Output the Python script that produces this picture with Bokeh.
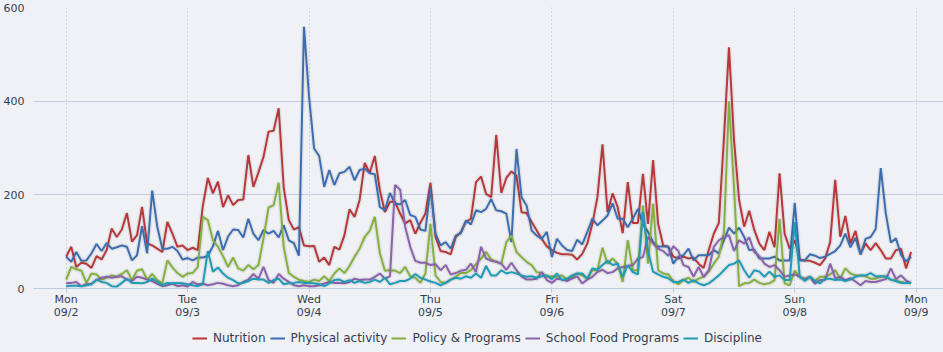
import numpy as np
from bokeh.plotting import figure
from bokeh.layouts import column
from bokeh.models import FixedTicker, Legend, LegendItem, Range1d
from bokeh.embed import file_html
from bokeh.resources import INLINE

# Days shown on the x axis (hourly data starting Mon 09/2 00:00)
day_names = ["Mon", "Tue", "Wed", "Thu", "Fri", "Sat", "Sun", "Mon"]
day_dates = ["09/2", "09/3", "09/4", "09/5", "09/6", "09/7", "09/8", "09/9"]
y_ticks = [0, 200, 400, 600]

nutrition = [
    68, 89, 46, 55, 53, 44, 69, 62, 82, 128, 110, 126, 161, 100, 114, 174, 96, 92, 85, 78, 142, 117, 89, 92,
    82, 87, 82, 176, 236, 203, 228, 174, 199, 178, 189, 190, 285, 217, 248, 281, 335, 337, 385, 215, 146, 126, 131, 92,
    90, 91, 57, 66, 50, 89, 83, 114, 169, 153, 189, 268, 247, 283, 210, 163, 185, 185, 160, 139, 146, 117, 140, 160,
    226, 110, 80, 78, 73, 110, 120, 142, 149, 227, 239, 202, 195, 328, 204, 236, 250, 241, 163, 161, 142, 124, 106, 90,
    82, 76, 73, 73, 72, 62, 74, 96, 138, 195, 308, 163, 203, 174, 118, 227, 140, 140, 245, 138, 274, 138, 92, 89,
    68, 64, 68, 64, 66, 53, 44, 82, 117, 140, 320, 515, 317, 189, 132, 166, 125, 96, 82, 121, 88, 246, 117, 85,
    103, 62, 60, 59, 55, 50, 64, 99, 232, 110, 155, 96, 123, 74, 96, 82, 97, 82, 64, 64, 82, 85, 43, 78,
]
physical_activity = [
    68, 57, 78, 59, 60, 75, 95, 80, 97, 85, 88, 92, 89, 60, 71, 133, 75, 209, 132, 85, 85, 89, 80, 62,
    65, 60, 66, 66, 70, 90, 123, 82, 111, 126, 125, 109, 149, 117, 103, 125, 117, 123, 109, 135, 103, 97, 70, 559,
    410, 299, 283, 217, 253, 221, 246, 249, 260, 231, 253, 256, 246, 244, 174, 167, 204, 181, 180, 189, 157, 153, 126, 123,
    215, 117, 92, 99, 85, 113, 118, 145, 137, 167, 163, 170, 191, 167, 165, 160, 99, 298, 195, 177, 124, 113, 106, 121,
    67, 106, 92, 82, 80, 104, 94, 121, 149, 135, 145, 156, 182, 149, 149, 131, 149, 170, 137, 121, 99, 89, 90, 89,
    53, 68, 71, 85, 60, 71, 71, 71, 82, 75, 103, 130, 117, 130, 110, 82, 83, 64, 64, 64, 68, 60, 60, 60,
    183, 60, 60, 73, 70, 65, 68, 74, 80, 92, 117, 88, 108, 72, 106, 110, 127, 257, 160, 98, 107, 72, 58, 68,
]
policy_programs = [
    19, 46, 41, 38, 12, 32, 30, 19, 23, 28, 25, 31, 39, 18, 38, 41, 19, 31, 18, 11, 60, 45, 33, 25,
    32, 33, 46, 153, 146, 103, 89, 69, 46, 66, 43, 38, 50, 41, 50, 107, 173, 178, 226, 89, 33, 25, 19, 16,
    14, 19, 16, 26, 16, 32, 43, 33, 48, 68, 85, 110, 123, 153, 75, 38, 39, 38, 33, 46, 26, 23, 12, 32,
    138, 28, 14, 12, 19, 25, 33, 33, 39, 52, 64, 78, 62, 57, 53, 99, 113, 78, 67, 57, 50, 35, 33, 25,
    26, 25, 28, 19, 25, 32, 28, 21, 39, 39, 87, 53, 64, 53, 14, 103, 39, 39, 177, 53, 181, 39, 32, 30,
    16, 9, 18, 23, 14, 21, 25, 36, 53, 68, 120, 399, 215, 5, 11, 12, 19, 12, 9, 11, 18, 149, 11, 7,
    38, 25, 21, 25, 16, 25, 25, 30, 39, 21, 43, 32, 28, 28, 26, 21, 21, 25, 25, 19, 16, 14, 12, 12,
]
school_food = [
    12, 12, 14, 5, 9, 10, 18, 23, 25, 23, 25, 26, 19, 16, 25, 23, 19, 16, 10, 5, 7, 10, 5, 7,
    4, 14, 9, 10, 7, 9, 12, 10, 7, 5, 7, 14, 19, 31, 21, 46, 18, 12, 31, 21, 14, 7, 5, 7,
    5, 5, 7, 11, 14, 12, 12, 11, 14, 21, 18, 19, 19, 25, 32, 21, 26, 221, 211, 132, 89, 59, 55, 55,
    50, 52, 39, 50, 30, 33, 38, 40, 53, 35, 89, 64, 59, 57, 53, 40, 55, 39, 26, 19, 19, 21, 35, 18,
    12, 21, 19, 16, 21, 26, 11, 19, 25, 35, 40, 33, 35, 43, 46, 48, 50, 64, 67, 110, 96, 85, 80, 70,
    90, 80, 50, 46, 25, 46, 25, 39, 89, 103, 110, 114, 80, 103, 96, 109, 78, 69, 53, 46, 50, 39, 25, 28,
    30, 25, 19, 25, 10, 18, 18, 53, 22, 25, 18, 22, 15, 7, 16, 14, 14, 17, 20, 43, 20, 28, 17, 12,
]
discipline = [
    5, 6, 6, 5, 7, 9, 19, 14, 12, 5, 4, 12, 21, 12, 12, 11, 14, 21, 14, 7, 12, 11, 12, 11,
    9, 7, 5, 9, 80, 36, 45, 32, 23, 18, 11, 12, 16, 21, 19, 19, 12, 18, 21, 9, 11, 12, 14, 12,
    12, 11, 9, 5, 11, 18, 19, 14, 18, 12, 16, 12, 14, 19, 14, 23, 9, 12, 16, 16, 21, 31, 23, 19,
    15, 12, 7, 12, 19, 23, 21, 26, 23, 32, 23, 48, 28, 28, 39, 32, 35, 32, 28, 25, 26, 23, 26, 28,
    20, 32, 18, 21, 28, 32, 32, 21, 43, 40, 50, 59, 50, 53, 25, 50, 35, 30, 163, 80, 36, 30, 25, 22,
    14, 14, 19, 12, 18, 11, 7, 11, 19, 28, 39, 50, 53, 60, 39, 23, 39, 36, 25, 36, 25, 28, 18, 18,
    142, 25, 16, 25, 16, 11, 21, 21, 18, 19, 16, 19, 25, 28, 28, 33, 26, 26, 26, 19, 16, 12, 12, 12,
]

series_names = ["Nutrition", "Physical activity", "Policy & Programs", "School Food Programs", "Discipline"]
series_values = [nutrition, physical_activity, policy_programs, school_food, discipline]
series_colors = ["#b8373a", "#3d6db1", "#84b13d", "#8b62ab", "#1e9bb7"]

bg = "#eff1f4"
text_color = "#333d52"
font = "DejaVu Sans"

hours = np.arange(len(nutrition))
tick_hours = [24 * i for i in range(len(day_names))]

# ---------------- main chart ----------------
p = figure(width=943, height=325, output_backend="svg", toolbar_location=None,
           x_range=Range1d(-6.46, 173.4), y_range=Range1d(0, 600),
           min_border_left=33, min_border_right=0, min_border_top=7, min_border_bottom=37,
           background_fill_color=bg, border_fill_color=bg, outline_line_color=None)

for name, vals, col in zip(series_names, series_values, series_colors):
    p.line(hours, vals, line_color="black", line_alpha=0.06, line_width=5)
    p.line(hours, vals, line_color=col, line_width=2)

# y axis
p.yaxis.ticker = FixedTicker(ticks=y_ticks)
p.yaxis.axis_line_color = None
p.yaxis.major_tick_line_color = None
p.yaxis.major_tick_out = 0
p.yaxis.major_tick_in = 0
p.yaxis.minor_tick_line_color = None
p.yaxis.minor_tick_out = 0
p.yaxis.axis_label_standoff = 0
p.yaxis.major_label_standoff = 9
p.yaxis.major_label_text_font = font
p.yaxis.major_label_text_font_size = "11px"
p.yaxis.major_label_text_color = text_color

# x axis
p.xaxis.ticker = FixedTicker(ticks=tick_hours)
p.xaxis.major_label_overrides = {h: f"{n}\n{d}" for h, n, d in zip(tick_hours, day_names, day_dates)}
p.xaxis.axis_line_color = "#bccbe0"
p.xaxis.major_tick_line_color = "#bccbe0"
p.xaxis.major_tick_in = 0
p.xaxis.major_tick_out = 4
p.xaxis.minor_tick_line_color = None
p.xaxis.minor_tick_out = 0
p.xaxis.axis_label_standoff = 0
p.xaxis.major_label_standoff = 0
p.xaxis.major_label_text_font = font
p.xaxis.major_label_text_font_size = "11px"
p.xaxis.major_label_text_line_height = 1.05
p.xaxis.major_label_text_color = text_color

# grids
p.ygrid.ticker = FixedTicker(ticks=y_ticks)
p.ygrid.grid_line_color = "#c3cfe1"
p.xgrid.ticker = FixedTicker(ticks=tick_hours)
p.xgrid.grid_line_color = "#a9b6cf"
p.xgrid.grid_line_dash = "1 3"

# ---------------- legend strip ----------------
lg = figure(width=943, height=27, output_backend="svg", toolbar_location=None,
            x_range=Range1d(0, 1), y_range=Range1d(0, 1),
            min_border=0, background_fill_color=bg, border_fill_color=bg, outline_line_color=None)
lg.xaxis.visible = False
lg.yaxis.visible = False
lg.xgrid.grid_line_color = None
lg.ygrid.grid_line_color = None
items = []
for name, col in zip(series_names, series_colors):
    r = lg.line([np.nan, np.nan], [np.nan, np.nan], line_color=col, line_width=2)
    items.append(LegendItem(label=name, renderers=[r]))
legend = Legend(items=items, orientation="horizontal", location=(159, 7),
                background_fill_alpha=0, border_line_color=None,
                label_text_font=font, label_text_font_size="12px", label_text_color=text_color,
                glyph_width=15, glyph_height=10, label_height=12, label_standoff=6, spacing=4,
                padding=1, margin=0)
lg.add_layout(legend, "center")

layout = column(p, lg, spacing=0, styles={"background-color": bg})
open("out.html", "w").write(file_html(layout, INLINE))
